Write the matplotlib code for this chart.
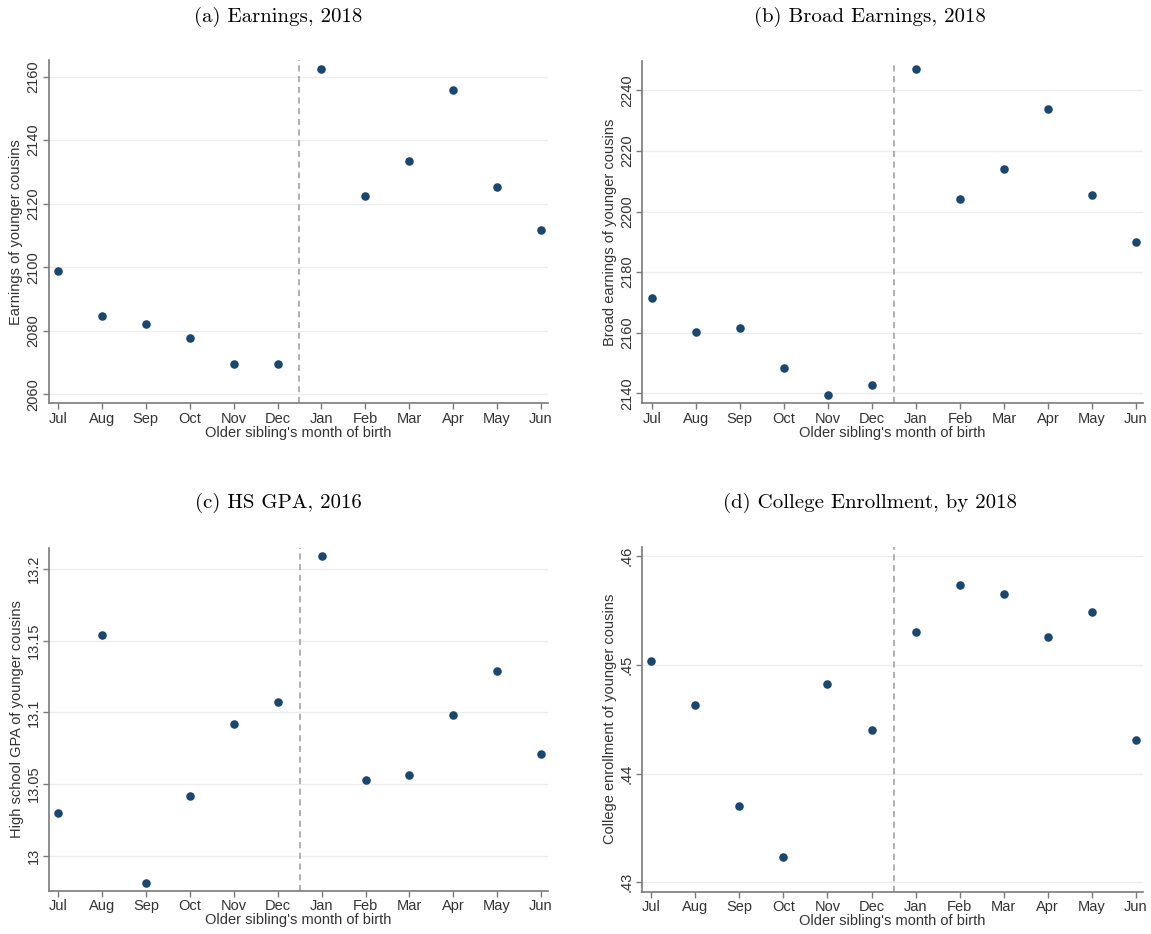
import matplotlib
matplotlib.use("Agg")
import matplotlib.pyplot as plt

months = ["Jul", "Aug", "Sep", "Oct", "Nov", "Dec",
          "Jan", "Feb", "Mar", "Apr", "May", "Jun"]

earnings = [2098.8, 2084.6, 2082.0, 2077.6, 2069.7, 2069.7,
            2162.4, 2122.3, 2133.3, 2155.8, 2125.1, 2111.8]
broad_earnings = [2171.3, 2160.2, 2161.6, 2148.2, 2139.4, 2142.6,
                  2247.0, 2204.0, 2214.0, 2233.7, 2205.5, 2189.9]
hs_gpa = [13.030, 13.154, 12.981, 13.042, 13.092, 13.107,
          13.209, 13.053, 13.056, 13.098, 13.129, 13.071]
college = [0.45037, 0.44629, 0.43702, 0.43231, 0.44825, 0.44404,
           0.45303, 0.45735, 0.45649, 0.45251, 0.45487, 0.44309]

earn_ticks = [2060, 2080, 2100, 2120, 2140, 2160]
broad_ticks = [2140, 2160, 2180, 2200, 2220, 2240]
gpa_ticks = [13.0, 13.05, 13.1, 13.15, 13.2]
gpa_labels = ["13", "13.05", "13.1", "13.15", "13.2"]
coll_ticks = [0.43, 0.44, 0.45, 0.46]
coll_labels = [".43", ".44", ".45", ".46"]

W, H = 1151, 934
navy = "#1a476f"
axis_gray = "#7a7a7a"

fig = plt.figure(figsize=(W / 100, H / 100), dpi=100)


def make_ax(left, right, top, bottom):
    return fig.add_axes([left / W, 1 - bottom / H, (right - left) / W, (bottom - top) / H])


panels = [
    # pixel box, values, ticks, labels, ylim, ylabel, title, title center
    ((48.5, 548, 60, 403.3), earnings, earn_ticks, [str(t) for t in earn_ticks],
     (2057.2, 2165.2), "Earnings of younger cousins", "(a) Earnings, 2018", (278, 17)),
    ((642.3, 1143, 60.7, 403.3), broad_earnings, broad_ticks, [str(t) for t in broad_ticks],
     (2136.7, 2249.8), "Broad earnings of younger cousins", "(b) Broad Earnings, 2018", (870, 17)),
    ((49, 548, 547.7, 890.7), hs_gpa, gpa_ticks, gpa_labels,
     (12.9756, 13.2149), "High school GPA of younger cousins", "(c) HS GPA, 2016", (278, 503)),
    ((641.7, 1143, 546.7, 891.7), college, coll_ticks, coll_labels,
     (0.42914, 0.46085), "College enrollment of younger cousins", "(d) College Enrollment, by 2018", (870, 503)),
]

x = list(range(len(months)))

for box, vals, ticks, tlabels, ylim, ylabel, title, tpos in panels:
    ax = make_ax(*box)
    ax.set_xlim(-0.216, 11.16)
    ax.set_ylim(*ylim)
    for t in ticks:
        ax.axhline(t, color="#ececec", lw=1.0, zorder=0)
    ax.axvline(5.5, color="#9a9a9a", lw=1.1, ls=(0, (4, 3)), zorder=1)
    ax.scatter(x, vals, s=38, color=navy, zorder=3, linewidths=0)

    for side in ["top", "right"]:
        ax.spines[side].set_visible(False)
    for side in ["left", "bottom"]:
        ax.spines[side].set_color(axis_gray)
        ax.spines[side].set_linewidth(1.2)

    ax.set_xticks(x)
    ax.set_xticklabels(months, family="Liberation Sans", fontsize=10.5, color="#333333")
    ax.set_yticks(ticks)
    ax.set_yticklabels(tlabels, family="Liberation Sans", fontsize=10.5, color="#333333",
                       rotation=90, va="center")
    ax.tick_params(axis="both", direction="out", length=4, width=1, color=axis_gray, pad=2)
    ax.set_xlabel("Older sibling's month of birth", family="Liberation Sans",
                  fontsize=10.5, color="#333333", labelpad=0)
    ax.set_ylabel(ylabel, family="Liberation Sans", fontsize=10.5, color="#333333", labelpad=2)

    fig.text(tpos[0] / W, 1 - tpos[1] / H, title, family="cmr10", fontsize=15,
             ha="center", va="center")

fig.savefig("out.png", dpi=100)
